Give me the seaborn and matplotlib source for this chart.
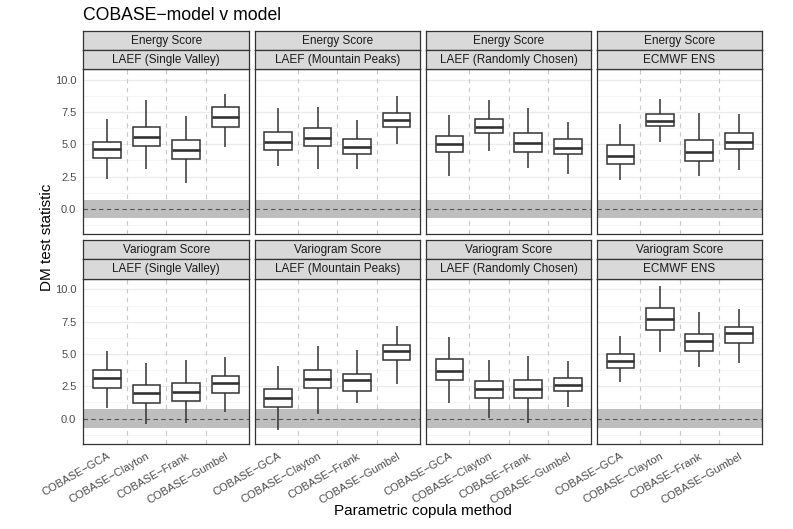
import matplotlib
matplotlib.use("Agg")
import matplotlib.pyplot as plt
import numpy as np
import pandas as pd
import seaborn as sns

methods = ["COBASE−GCA", "COBASE−Clayton", "COBASE−Frank", "COBASE−Gumbel"]
scores = ["Energy Score", "Variogram Score"]
models = ["LAEF (Single Valley)", "LAEF (Mountain Peaks)",
          "LAEF (Randomly Chosen)", "ECMWF ENS"]

# per box: lower whisker, q1, median, q3, upper whisker (GCA, Clayton, Frank, Gumbel)
es_single = [[2.30, 3.98, 4.63, 5.17, 6.95], [3.10, 4.88, 5.58, 6.38, 8.45],
             [2.04, 3.85, 4.55, 5.32, 7.23], [4.83, 6.38, 7.13, 7.93, 8.91]]
es_peaks = [[3.36, 4.55, 5.17, 5.97, 7.83], [3.12, 4.86, 5.53, 6.25, 7.88],
            [3.07, 4.29, 4.81, 5.43, 6.87], [5.01, 6.31, 6.90, 7.44, 8.76]]
es_random = [[2.58, 4.39, 5.06, 5.61, 7.29], [4.50, 5.87, 6.36, 6.95, 8.45],
             [3.20, 4.39, 5.14, 5.87, 7.80], [2.69, 4.24, 4.75, 5.40, 6.77]]
es_ecmwf = [[2.22, 3.44, 4.13, 4.96, 6.56], [5.22, 6.43, 6.82, 7.39, 8.53],
            [2.53, 3.74, 4.44, 5.35, 7.44], [3.02, 4.67, 5.22, 5.87, 7.34]]
vs_single = [[0.82, 2.37, 3.17, 3.74, 5.20], [-0.44, 1.24, 1.98, 2.60, 4.30],
             [-0.34, 1.34, 2.06, 2.73, 4.56], [0.54, 2.01, 2.73, 3.29, 4.76]]
vs_peaks = [[-0.85, 0.93, 1.57, 2.29, 4.10], [0.33, 2.34, 3.09, 3.79, 5.65],
            [1.21, 2.16, 2.96, 3.48, 5.28], [2.71, 4.51, 5.20, 5.72, 7.19]]
vs_random = [[1.21, 3.02, 3.71, 4.59, 6.31], [0.05, 1.57, 2.32, 2.94, 4.56],
             [-0.34, 1.57, 2.32, 2.96, 4.82], [0.90, 2.11, 2.58, 3.14, 4.43]]
vs_ecmwf = [[2.83, 3.94, 4.48, 4.97, 6.39], [5.13, 6.88, 7.73, 8.55, 10.23],
            [4.02, 5.23, 6.00, 6.57, 8.22], [4.33, 5.88, 6.62, 7.09, 8.48]]

panels = {
    ("Energy Score", "LAEF (Single Valley)"): es_single,
    ("Energy Score", "LAEF (Mountain Peaks)"): es_peaks,
    ("Energy Score", "LAEF (Randomly Chosen)"): es_random,
    ("Energy Score", "ECMWF ENS"): es_ecmwf,
    ("Variogram Score", "LAEF (Single Valley)"): vs_single,
    ("Variogram Score", "LAEF (Mountain Peaks)"): vs_peaks,
    ("Variogram Score", "LAEF (Randomly Chosen)"): vs_random,
    ("Variogram Score", "ECMWF ENS"): vs_ecmwf,
}

rows = []
for (score, model), boxes in panels.items():
    for method, vals in zip(methods, boxes):
        for v in vals:
            rows.append({"score": score, "model": model, "method": method, "value": v})
df = pd.DataFrame(rows)

band = 0.72

sns.set_theme(style="white")
plt.rcParams["font.family"] = ["Liberation Sans", "DejaVu Sans"]

W, H = 793, 529
fig = plt.figure(figsize=(W / 100, H / 100), dpi=100)

lefts = [83.3, 254.5, 425.7, 596.7]
pw = 165.7
plot_tops = [69.0, 278.5]
plot_bots = [234.3, 444.0]
strip_h = 19.2

grey20 = "#333333"


def fr(x, y, w, h):
    return [x / W, 1 - (y + h) / H, w / W, h / H]


for r, score in enumerate(scores):
    for c, model in enumerate(models):
        x0 = lefts[c]
        top, bot = plot_tops[r], plot_bots[r]
        ax = fig.add_axes(fr(x0, top, pw, bot - top))
        sub = df[(df["score"] == score) & (df["model"] == model)]
        ax.set_facecolor("white")
        ax.set_yticks([0, 2.5, 5, 7.5, 10])
        ax.set_yticks([-1.25, 1.25, 3.75, 6.25, 8.75], minor=True)
        ax.grid(True, which="major", color="#EBEBEB", linewidth=0.9, zorder=0)
        ax.grid(True, which="minor", axis="y", color="#F2F2F2", linewidth=0.5, zorder=0)
        ax.set_axisbelow(True)
        for xv in [0.5, 1.5, 2.5]:
            ax.axvline(xv, color="#C8C8C8", linestyle=(0, (4, 4)), linewidth=0.8, zorder=1)
        ax.axhspan(-band, band, color="#BEBEBE", linewidth=0, zorder=1.5)
        ax.axhline(0, color="#555555", linestyle=(0, (4, 3)), linewidth=0.8, zorder=1.6)
        sns.boxplot(data=sub, x="method", y="value", order=methods, whis=np.inf,
                    width=0.7, color="white", linecolor=grey20, linewidth=1.1,
                    showcaps=False, medianprops={"linewidth": 1.9}, ax=ax, zorder=3)
        ax.set_xlim(-0.6, 3.6)
        ax.set_ylim(-1.97, 10.84)
        ax.set_xlabel("")
        ax.set_ylabel("")
        for s in ax.spines.values():
            s.set_color(grey20)
            s.set_linewidth(0.9)
        ax.tick_params(axis="both", which="major", length=3, width=0.6, color=grey20,
                       labelsize=8, labelcolor="#4D4D4D", pad=2)
        ax.tick_params(axis="both", which="minor", length=0)
        if c == 0:
            ax.set_yticklabels(["0.0", "2.5", "5.0", "7.5", "10.0"])
        else:
            ax.tick_params(axis="y", which="major", length=0, labelleft=False)
        if r == 1:
            ax.set_xticks(range(4))
            ax.set_xticklabels(methods, rotation=30, ha="right", rotation_mode="anchor")
        else:
            ax.tick_params(axis="x", length=0, labelbottom=False)

        # two-level strips
        for k, lab in enumerate([score, model]):
            sy = top - strip_h * (2 - k)
            sax = fig.add_axes(fr(x0, sy, pw, strip_h))
            sax.set_facecolor("#D9D9D9")
            sax.set_xticks([])
            sax.set_yticks([])
            for s in sax.spines.values():
                s.set_color(grey20)
                s.set_linewidth(0.9)
            sax.text(0.5, 0.48, lab, ha="center", va="center", fontsize=8.5,
                     color="#1A1A1A", transform=sax.transAxes)

fig.text(83 / W, 1 - 16 / H, "COBASE−model v model", ha="left", va="center",
         fontsize=12.7, color="black")
fig.text(423 / W, 1 - 511 / H, "Parametric copula method", ha="center", va="center",
         fontsize=11, color="black")
fig.text(47 / W, 1 - 237 / H, "DM test statistic", ha="center", va="center",
         rotation=90, fontsize=11, color="black")

fig.savefig("out.png", dpi=100)
plt.close(fig)
